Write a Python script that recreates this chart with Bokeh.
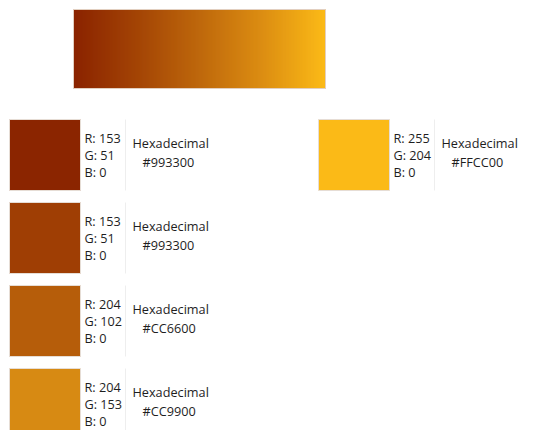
from bokeh.plotting import figure
from bokeh.models import Range1d, ColumnDataSource
from bokeh.core.properties import value
from bokeh.embed import file_html
from bokeh.resources import INLINE

# ---- data ----
swatch_fill = ["#8B2500", "#9F3E04", "#B65D0A", "#D78A13", "#FBBA17"]
r_vals = [153, 153, 204, 204, 255]
g_vals = [51, 51, 102, 153, 204]
b_vals = [0, 0, 0, 0, 0]
hex_labels = ["#993300", "#993300", "#CC6600", "#CC9900", "#FFCC00"]
columns = [0, 0, 0, 0, 1]
rows = [0, 1, 2, 3, 0]
gradient_stops = ["#8A2300", "#A34405", "#BE680C", "#DC8D12", "#FBBA17"]

# ---- layout (pixels of the picture) ----
PW, PH = 523, 430
col_x = [9, 318]
row_top0, row_pitch = 119, 83
sw_w, sw_h = 71, 71
grad_x0, grad_x1, grad_y0, grad_y1 = 73, 325, 9, 88

p = figure(width=PW, height=PH, output_backend="svg",
           toolbar_location=None, min_border=0,
           x_range=Range1d(0, PW), y_range=Range1d(PH, 0))
p.axis.visible = False
p.grid.visible = False
p.outline_line_color = None
p.background_fill_color = "white"
p.border_fill_color = "white"

def hex2rgb(h):
    return tuple(int(h[i:i + 2], 16) for i in (1, 3, 5))

# gradient bar drawn as overlapping thin slices
n = grad_x1 - grad_x0
stops = [hex2rgb(c) for c in gradient_stops]
lefts, rights, cols = [], [], []
for i in range(n):
    t = i / (n - 1) * (len(stops) - 1)
    k = min(int(t), len(stops) - 2)
    f = t - k
    c = tuple(int(round(stops[k][j] + (stops[k + 1][j] - stops[k][j]) * f)) for j in range(3))
    lefts.append(grad_x0 + i)
    rights.append(min(grad_x0 + i + 3, grad_x1))
    cols.append("#%02x%02x%02x" % c)
p.quad(left=lefts, right=rights, top=grad_y0, bottom=grad_y1, fill_color=cols,
       fill_alpha=1.0, line_color=None)
p.quad(left=grad_x0, right=grad_x1, top=grad_y0, bottom=grad_y1, fill_color=None,
       line_color="#e2cfc0", line_width=1)

# swatches
xs = [col_x[c] for c in columns]
ys = [row_top0 + r * row_pitch for r in rows]
src = ColumnDataSource(dict(
    left=xs, right=[x + sw_w for x in xs], top=ys, bottom=[y + sw_h for y in ys],
    fill=swatch_fill,
    sep_x=[x + 116 for x in xs],
    tx=[x + 75 for x in xs],
    hx=[x + 123 for x in xs],
    hhx=[x + 133 for x in xs],
    ry=[y + 18 for y in ys], gy=[y + 35 for y in ys], by=[y + 52 for y in ys],
    hy=[y + 23 for y in ys], hhy=[y + 42 for y in ys],
    rt=["R: %d" % v for v in r_vals], gt=["G: %d" % v for v in g_vals],
    bt=["B: %d" % v for v in b_vals], ht=["Hexadecimal"] * len(xs), hh=hex_labels,
))
p.quad(left="left", right="right", top="top", bottom="bottom", fill_color="fill",
       line_color="#e6ddd5", line_width=1, source=src)
p.segment(x0="sep_x", x1="sep_x", y0="top", y1="bottom", line_color="#eeeeee",
          line_width=1, source=src)

font = value("Open Sans")
for xcol, ycol, tcol in [("tx", "ry", "rt"), ("tx", "gy", "gt"), ("tx", "by", "bt"),
                         ("hx", "hy", "ht"), ("hhx", "hhy", "hh")]:
    p.text(x=xcol, y=ycol, text=tcol, source=src, text_font=font,
           text_font_size="12.7px", text_color="#1e1e1e",
           text_baseline="middle", text_align="left")

open("out.html", "w").write(file_html(p, INLINE))
